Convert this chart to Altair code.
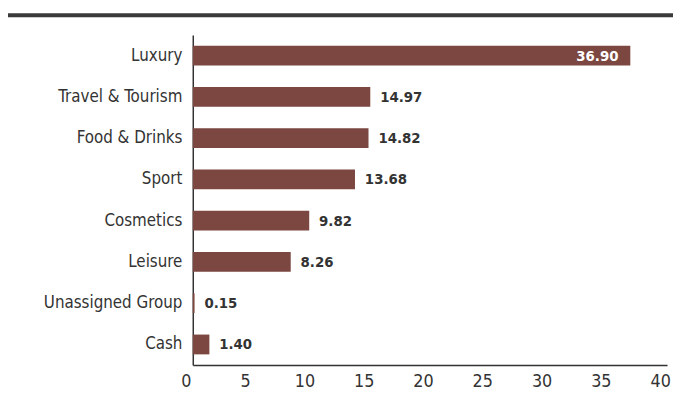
import altair as alt
import pandas as pd

categories = ["Luxury", "Travel & Tourism", "Food & Drinks", "Sport", "Cosmetics", "Leisure", "Unassigned Group", "Cash"]
values = [36.90, 14.97, 14.82, 13.68, 9.82, 8.26, 0.15, 1.40]
labels = ["36.90", "14.97", "14.82", "13.68", "9.82", "8.26", "0.15", "1.40"]

df = pd.DataFrame({"cat": categories, "val": values, "lab": labels})
df["inside"] = df["val"] > 30

FONT = "DejaVu Sans Condensed"
BAR = "#7B4740"
TXT = "#333333"

x = alt.X("val:Q", scale=alt.Scale(domain=[0, 40], nice=False),
          axis=alt.Axis(values=[0, 5, 10, 15, 20, 25, 30, 35, 40], title=None, grid=False,
                        ticks=False, labelFont=FONT, labelFontSize=18, labelColor=TXT,
                        labelPadding=8, tickOffset=-7, domainColor=TXT, domainWidth=1.5,
                        labelFlush=False))
y = alt.Y("cat:N", sort=categories,
          scale=alt.Scale(paddingInner=0.52, paddingOuter=0.26),
          axis=alt.Axis(title=None, ticks=False, labelFont=FONT, labelFontSize=17,
                        labelColor=TXT, labelPadding=11, domainColor=TXT, domainWidth=1.5))

base = alt.Chart(df)
bars = base.mark_bar(color=BAR).encode(x=x, y=y)
out_text = base.transform_filter("!datum.inside").mark_text(
    align="left", dx=10, font=FONT, fontSize=15, fontWeight="bold", color=TXT
).encode(x="val:Q", y=alt.Y("cat:N", sort=categories), text="lab:N")
in_text = base.transform_filter("datum.inside").mark_text(
    align="right", dx=-12, font=FONT, fontSize=15, fontWeight="bold", color="white"
).encode(x="val:Q", y=alt.Y("cat:N", sort=categories), text="lab:N")

topline = alt.Chart(pd.DataFrame({"a": [0]})).mark_rule(color="#3a3a3a", strokeWidth=4).encode(
    x=alt.value(-188), x2=alt.value(500), y=alt.value(-20))

chart = alt.layer(bars, out_text, in_text, topline).properties(
    width=480, height=334,
    autosize=alt.AutoSizeParams(type="none"),
    padding={"left": 187, "top": 25, "right": 6, "bottom": 38},
).configure_view(stroke=None)

chart.save("out.html", embed_options={"renderer": "svg", "actions": False})
